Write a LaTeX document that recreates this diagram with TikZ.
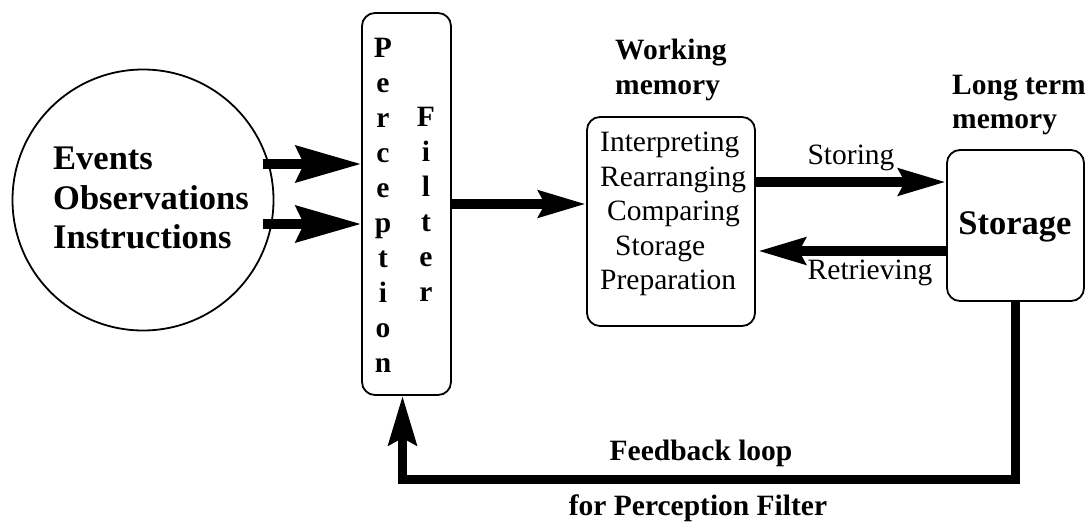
\documentclass[tikz,border=0pt]{standalone}
\usepackage{fontspec}
\setmainfont{Liberation Serif}
\usetikzlibrary{arrows.meta,calc}
\newcommand\fReg{\fontsize{29.5}{34.5}\selectfont}
\newcommand\fBig{\fontsize{34.5}{39.5}\selectfont\bfseries}
\newcommand\fBold{\fontsize{29.5}{34.5}\selectfont\bfseries}
\newcommand\fCol{\fontsize{29.5}{35}\selectfont\bfseries}
\begin{document}
\begin{tikzpicture}[x=1pt,y=-1pt,
  box/.style={draw, line width=1.8pt, rounded corners=13pt, inner sep=0pt},
  bigarrow/.style={line width=10pt, -{Stealth[length=65pt,width=36pt,inset=8pt]}},
  midarrow/.style={line width=10pt, -{Stealth[length=47pt,width=26pt,inset=6pt]}},
  fbarrow/.style={line width=9pt, line join=miter, -{Stealth[length=49pt,width=28pt,inset=7pt]}},
  lbl/.style={inner sep=0pt}]
\useasboundingbox (0,0) rectangle (1089,522);
% source circle
\node[circle, draw, line width=1.8pt, minimum size=261pt, inner sep=0pt] (src) at (143,200) {};
\node[lbl, align=left, anchor=west, font=\fBig] (srctext) at (53,198) {Events\\Observations\\Instructions};
% perception filter
\node[box, minimum width=89pt, minimum height=382pt] (pf) at (406.5,204) {};
\node[lbl, align=center, anchor=north, font=\fCol] (perc) at (383,38) {P\\e\\r\\c\\e\\p\\t\\i\\o\\n};
\node[lbl, align=center, anchor=north, font=\fCol] (filt) at (426,107) {F\\i\\l\\t\\e\\r};
% working memory
\node[box, minimum width=168pt, minimum height=209pt] (wm) at (671,221.5) {};
\node[lbl, align=left, anchor=west, font=\fReg] (wmtext) at (600,214) {Interpreting\\Rearranging\\\hspace*{7pt}Comparing\\\hspace*{15pt}Storage\\Preparation};
\node[lbl, align=left, anchor=west, font=\fBold] (wmtitle) at (615,70) {Working\\memory};
% long term memory
\node[box, minimum width=137pt, minimum height=151pt] (st) at (1015.5,225.5) {};
\node[lbl, font=\fBig] (sttext) at (1015,227) {Storage};
\node[lbl, align=left, anchor=west, font=\fBold] (sttitle) at (952,105) {Long term\\memory};
% arrows
\path ($(src.center)+(120,-36)$) coordinate (in1);
\path ($(src.center)+(120,24)$) coordinate (in2);
\draw[bigarrow] (in1) -- (in1 -| pf.west);
\draw[bigarrow] (in2) -- (in2 -| pf.west);
\draw[midarrow] (pf.east) -- (pf.east -| wm.west);
\path ($(wm.east)+(0,-39.5)$) coordinate (sto);
\draw[midarrow] (sto) -- (sto -| st.west);
\path ($(st.west)+(0,25.5)$) coordinate (ret);
\draw[midarrow] (ret) -- ($(ret -| wm.east)+(2,0)$);
\node[lbl, font=\fReg] (storing) at (851,158) {Storing};
\node[lbl, font=\fReg] (retrieving) at (870,273) {Retrieving};
% feedback loop
\draw[fbarrow] (st.south) |- ($(pf.south)+(-4,84)$) -- ($(pf.south)+(-4,0)$);
\node[lbl, font=\fBold] (fb1) at (701,453) {Feedback loop};
\node[lbl, font=\fBold] (fb2) at (698,508) {for Perception Filter};
\end{tikzpicture}
\end{document}
